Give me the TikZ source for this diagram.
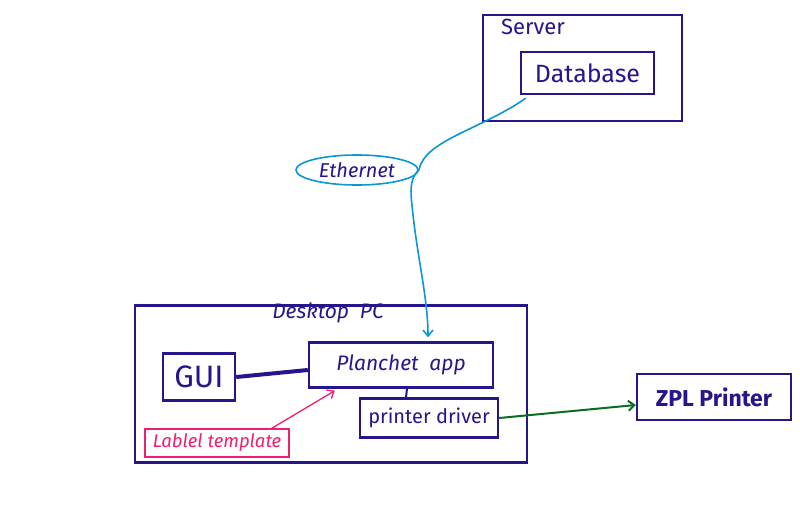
\documentclass[tikz,border=0pt]{standalone}
\usepackage{fontspec}
\setmainfont{Fira Sans}
\usetikzlibrary{calc,shapes.geometric,arrows.meta}
\definecolor{ink}{RGB}{38,22,140}
\definecolor{cyanink}{RGB}{10,150,215}
\definecolor{greenink}{RGB}{10,110,30}
\definecolor{pinkink}{RGB}{240,30,110}
\tikzset{
  box/.style={draw=ink, line width=2.4pt, inner sep=0pt, text=ink},
  lbl/.style={text=ink, inner sep=0pt},
}
\begin{document}
\begin{tikzpicture}[x=1pt,y=-1pt]
\useasboundingbox[fill=white] (0,0) rectangle (800,506);
% Server
\node[box, minimum width=199pt, minimum height=106pt] (server) at (582.5,68) {};
\node[lbl, font=\fontsize{22}{24}\selectfont, anchor=west] (servert) at (501,27) {Server};
\node[box, minimum width=133pt, minimum height=42pt, font=\fontsize{25}{28}\selectfont] (db) at (587.5,73) {Database};
% Ethernet
\node[draw=cyanink, line width=1.6pt, ellipse, minimum width=122pt, minimum height=30pt, inner sep=0pt, text=ink, font=\itshape\fontsize{20}{22}\selectfont] (eth) at (357,170) {Ethernet};
% Desktop PC
\node[box, minimum width=392pt, minimum height=157pt] (pc) at (331,384) {};
\node[lbl, font=\itshape\fontsize{21}{23}\selectfont] (pct) at (328,313) {Desktop \ PC};
\node[box, minimum width=72pt, minimum height=47pt, font=\fontsize{31}{33}\selectfont] (gui) at (199,377) {GUI};
\node[box, minimum width=184pt, minimum height=45pt, font=\itshape\fontsize{21}{23}\selectfont] (app) at (401,365) {Planchet \ app};
\node[box, minimum width=138pt, minimum height=39pt, font=\fontsize{20}{22}\selectfont] (drv) at (429,418) {printer driver};
\node[draw=pinkink, line width=1.3pt, inner sep=0pt, minimum width=144pt, minimum height=28pt, text=pinkink, font=\itshape\fontsize{18.5}{20}\selectfont] (tpl) at (217,443) {Lablel template};
% ZPL printer
\node[box, minimum width=154pt, minimum height=46pt, font=\bfseries\fontsize{23}{25}\selectfont] (zpl) at (714,397) {ZPL Printer};
% connectors
\coordinate (c0) at ($(db.south west)+(6,3)$);
\coordinate (c1) at ($(app.north)+(27,-4)$);
\draw[cyanink, line width=1.6pt, -{Straight Barb[length=6pt,width=10pt]}]
  (c0) .. controls (480,130) and (425,140) .. (eth.east)
  .. controls (408,180) and (411,195) .. (413,215)
  .. controls (418,260) and (428,300) .. (c1);
\draw[ink, line width=4pt] (gui.east) -- ($(app.west)+(0,5)$);
\draw[ink, line width=2pt] ($(app.south)+(6,0)$) -- ($(drv.north)+(-23,0)$);
\draw[greenink, line width=2pt, -{Straight Barb[length=6pt,width=10pt]}] (drv.east) -- ($(zpl.west)+(0,8)$);
\draw[pinkink, line width=1.3pt, -{Straight Barb[length=6pt,width=10pt]}] ($(tpl.north east)+(-18,0)$) -- ($(app.south west)+(27,2)$);
\end{tikzpicture}
\end{document}
